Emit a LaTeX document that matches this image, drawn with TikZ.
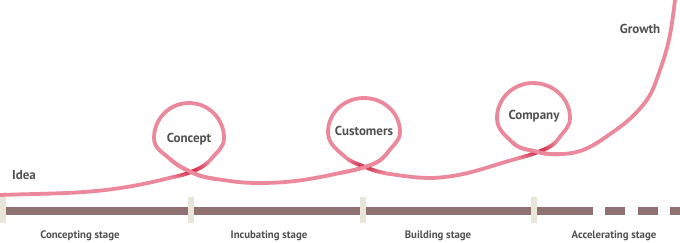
\documentclass[tikz,border=0pt]{standalone}
\usepackage{fontspec}
\setmainfont{PT Sans}
\usepackage{tikz}
\usetikzlibrary{positioning,fadings}
\definecolor{loopink}{RGB}{236,136,155}
\definecolor{loopdark}{RGB}{208,28,58}
\definecolor{barbrown}{RGB}{142,113,112}
\definecolor{markbeige}{RGB}{233,229,215}
\definecolor{labelgray}{RGB}{80,80,80}
\tikzfading[name=crossfade, inner color=transparent!0, outer color=transparent!100]

\begin{document}
\begin{tikzpicture}[
  x=1pt, y=1pt,
  curve/.style={line width=3.8pt, line cap=round, draw=loopink},
  under/.style={line width=3.8pt, line cap=round, draw=loopdark, path fading=crossfade, fit fading=true},
  timeline/.style={fill=barbrown},
  stagemark/.style={fill=markbeige},
  milestone/.style={font=\fontsize{13}{13}\selectfont\bfseries, text=labelgray},
  stage/.style={font=\fontsize{10.8}{10.8}\selectfont\bfseries, text=labelgray}
]
\useasboundingbox (0,0) rectangle (680,242);

% timeline
\fill[timeline] (0,27) rectangle (593,35);
\foreach \x in {605,638} \fill[timeline] (\x,27) rectangle ++(20,8);
\fill[timeline] (670,27) rectangle (680,35);
\foreach \x in {0,188,360,531} \fill[stagemark] (\x,19) rectangle ++(6,26);

\node[stage] (concepting) at (80,6) {Concepting stage};
\node[stage] (incubating) at (269,6) {Incubating stage};
\node[stage] (building) at (438,6) {Building stage};
\node[stage] (accelerating) at (614,6) {Accelerating stage};

% curve points
\coordinate (s) at (0,47);
\coordinate (a1) at (165,63);
\coordinate (c1) at (191,70);
\coordinate (b1) at (212,84);
\coordinate (r1) at (224,104);
\coordinate (t1) at (189,139);
\coordinate (l1) at (154,104);
\coordinate (e1) at (170,83);
\coordinate (f1) at (216,63);
\coordinate (d1) at (258,59);
\coordinate (a2) at (340,69);
\coordinate (c2) at (365,75);
\coordinate (b2) at (388,90);
\coordinate (r2) at (400,110);
\coordinate (t2) at (364,144);
\coordinate (l2) at (328,110);
\coordinate (e2) at (344,86);
\coordinate (f2) at (390,68);
\coordinate (d2) at (433,64);
\coordinate (a3) at (512,82);
\coordinate (c3) at (538,90);
\coordinate (b3) at (559,104);
\coordinate (r3) at (570,124);
\coordinate (t3) at (533,159);
\coordinate (l3) at (497,124);
\coordinate (e3) at (512,100);
\coordinate (f3) at (562,88);
\coordinate (g1) at (613,110);
\coordinate (g2) at (643,137);
\coordinate (g3) at (660,172);
\coordinate (g4) at (675,242);

\draw[curve] (s) to[out=2,in=194] (a1) to[out=14,in=202] (c1)
  to[out=22,in=230] (b1) to[out=50,in=270] (r1) to[out=90,in=0] (t1)
  to[out=180,in=90] (l1) to[out=270,in=138] (e1) to[out=318,in=155] (c1)
  to[out=335,in=172] (f1) to[out=352,in=180] (d1) to[out=0,in=192] (a2)
  to[out=12,in=198] (c2) to[out=18,in=235] (b2) to[out=55,in=270] (r2)
  to[out=90,in=0] (t2) to[out=180,in=90] (l2) to[out=270,in=138] (e2)
  to[out=318,in=158] (c2) to[out=338,in=172] (f2) to[out=352,in=180] (d2)
  to[out=3,in=196] (a3) to[out=16,in=202] (c3) to[out=22,in=235] (b3)
  to[out=55,in=270] (r3) to[out=90,in=0] (t3) to[out=180,in=90] (l3)
  to[out=270,in=135] (e3) to[out=315,in=165] (c3) to[out=345,in=182] (f3)
  to[out=2,in=215] (g1) to[out=35,in=230] (g2) to[out=50,in=250] (g3)
  to[out=70,in=263] (g4);

% strands passing under
\draw[under] (a1) to[out=14,in=202] (c1) to[out=22,in=230] (b1);
\draw[under] (e2) to[out=318,in=158] (c2) to[out=338,in=172] (f2);
\draw[under] (a3) to[out=16,in=202] (c3) to[out=22,in=235] (b3);

% strands passing over
\draw[curve] (e1) to[out=318,in=155] (c1) to[out=335,in=172] (f1);
\draw[curve] (a2) to[out=12,in=198] (c2) to[out=18,in=235] (b2);
\draw[curve] (e3) to[out=315,in=165] (c3) to[out=345,in=182] (f3);

\node[milestone] (idea) at (24,67) {Idea};
\node[milestone] (concept) at (189,103) {Concept};
\node[milestone] (customers) at (364,111) {Customers};
\node[milestone] (company) at (534,126) {Company};
\node[milestone] (growth) at (640,213) {Growth};
\end{tikzpicture}
\end{document}
